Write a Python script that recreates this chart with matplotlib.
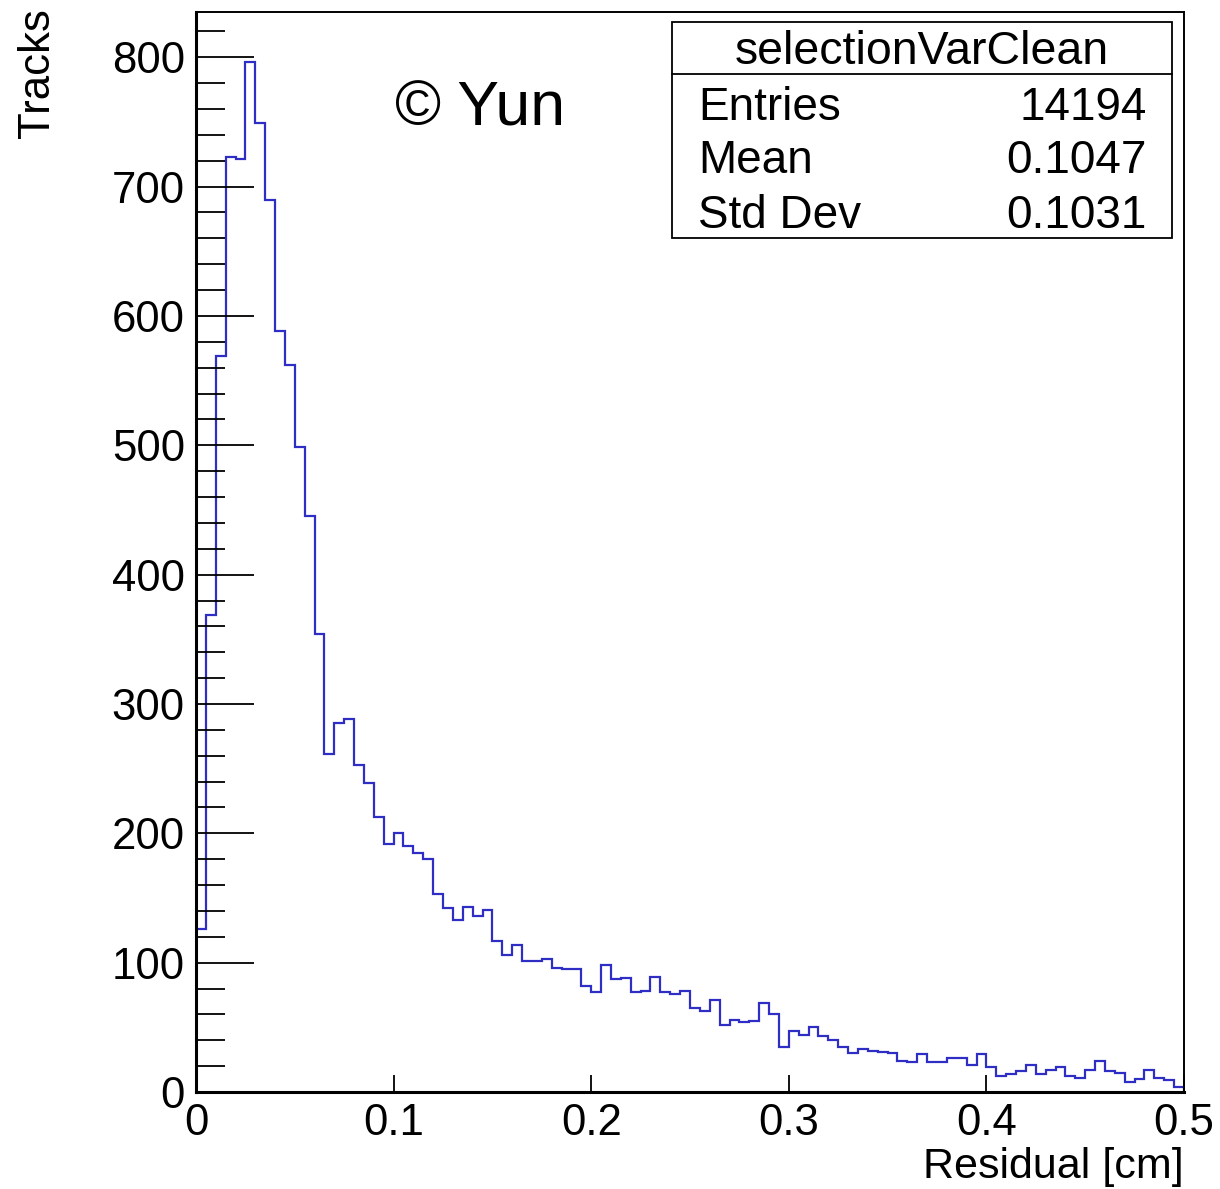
import numpy as np
import matplotlib
matplotlib.use("Agg")
import matplotlib.pyplot as plt
from matplotlib.ticker import MultipleLocator, FixedLocator
from matplotlib.patches import Rectangle
from matplotlib.lines import Line2D

# ---- data ----
x_min, x_max, n_bins = 0.0, 0.5, 100
counts = [126, 369, 569, 723, 721, 796, 749, 690, 588, 562,
          499, 445, 354, 261, 285, 288, 253, 239, 213, 192,
          200, 190, 185, 180, 153, 142, 133, 143, 136, 141,
          117, 106, 114, 101, 101, 103, 96, 95, 95, 82,
          77, 98, 87, 88, 77, 78, 89, 77, 76, 78,
          65, 63, 71, 52, 56, 54, 55, 69, 60, 35,
          47, 44, 50, 43, 40, 35, 30, 33, 32, 31,
          30, 24, 23, 29, 23, 23, 26, 26, 21, 29,
          19, 12, 14, 16, 21, 14, 17, 19, 12, 11,
          17, 24, 16, 15, 8, 10, 17, 11, 9, 4]
x_ticks = [0, 0.1, 0.2, 0.3, 0.4, 0.5]
x_tick_labels = ["0", "0.1", "0.2", "0.3", "0.4", "0.5"]
y_ticks = [0, 100, 200, 300, 400, 500, 600, 700, 800]
stats_title = "selectionVarClean"
stats_names = ["Entries", "Mean", "Std Dev"]
stats_values = ["14194", "0.1047", "0.1031"]
x_title = "Residual [cm]"
y_title = "Tracks"
watermark = "\u00a9 Yun"

plt.rcParams['font.family'] = ['Liberation Sans', 'DejaVu Sans']

W, H = 1220, 1189
fig = plt.figure(figsize=(W / 100, H / 100), dpi=100)
L, R, B, T = 196, 1184, 1092, 12
ax = fig.add_axes([L / W, 1 - B / H, (R - L) / W, (B - T) / H])

edges = np.linspace(x_min, x_max, n_bins + 1)
ax.stairs(counts, edges, baseline=0, color='#2e2ec4', linewidth=1.6)

ax.set_xlim(x_min, x_max)
ax.set_ylim(0, 835)

ax.xaxis.set_major_locator(FixedLocator(x_ticks))
ax.set_xticklabels(x_tick_labels)
ax.yaxis.set_major_locator(FixedLocator(y_ticks))
ax.yaxis.set_minor_locator(MultipleLocator(20))

ax.tick_params(axis='x', which='major', direction='in', length=12.5, width=1.3,
               labelsize=31.5, pad=8, top=False)
ax.tick_params(axis='y', which='major', direction='in', length=42, width=1.3,
               labelsize=31.5, pad=8, right=False)
ax.tick_params(axis='y', which='minor', direction='in', length=21, width=1.3,
               right=False)
ax.tick_params(axis='x', which='minor', bottom=False, top=False)

for s in ['left', 'bottom']:
    ax.spines[s].set_linewidth(2.2)
for s in ['top', 'right']:
    ax.spines[s].set_linewidth(1.4)

fig.text(38 / W, 1 - 8 / H, y_title, rotation=90, ha='center', va='top', fontsize=31.5)
fig.text(1184 / W, 1 - 1178 / H, x_title, ha='right', va='baseline', fontsize=31)

fig.text(395 / W, 1 - 126 / H, watermark, ha='left', va='baseline', fontsize=45)

# stats box
bx0, by0, bx1, by1 = 672, 22, 1172, 238
fig.patches.append(Rectangle((bx0 / W, 1 - by1 / H), (bx1 - bx0) / W, (by1 - by0) / H,
                             transform=fig.transFigure, facecolor='white',
                             edgecolor='black', linewidth=1.3, zorder=5))
fig.lines.append(Line2D([bx0 / W, bx1 / W], [1 - 74 / H, 1 - 74 / H],
                        transform=fig.transFigure, color='black', linewidth=1.3, zorder=6))
fig.text((bx0 + bx1) / 2 / W, 1 - 64 / H, stats_title, ha='center', va='baseline',
         fontsize=33.5, zorder=7)
row_baselines = [120, 173, 228]
for name, val, yb in zip(stats_names, stats_values, row_baselines):
    fig.text(698 / W, 1 - yb / H, name, ha='left', va='baseline', fontsize=33, zorder=7)
    fig.text(1147 / W, 1 - yb / H, val, ha='right', va='baseline', fontsize=33, zorder=7)

fig.savefig("out.png", dpi=100)
